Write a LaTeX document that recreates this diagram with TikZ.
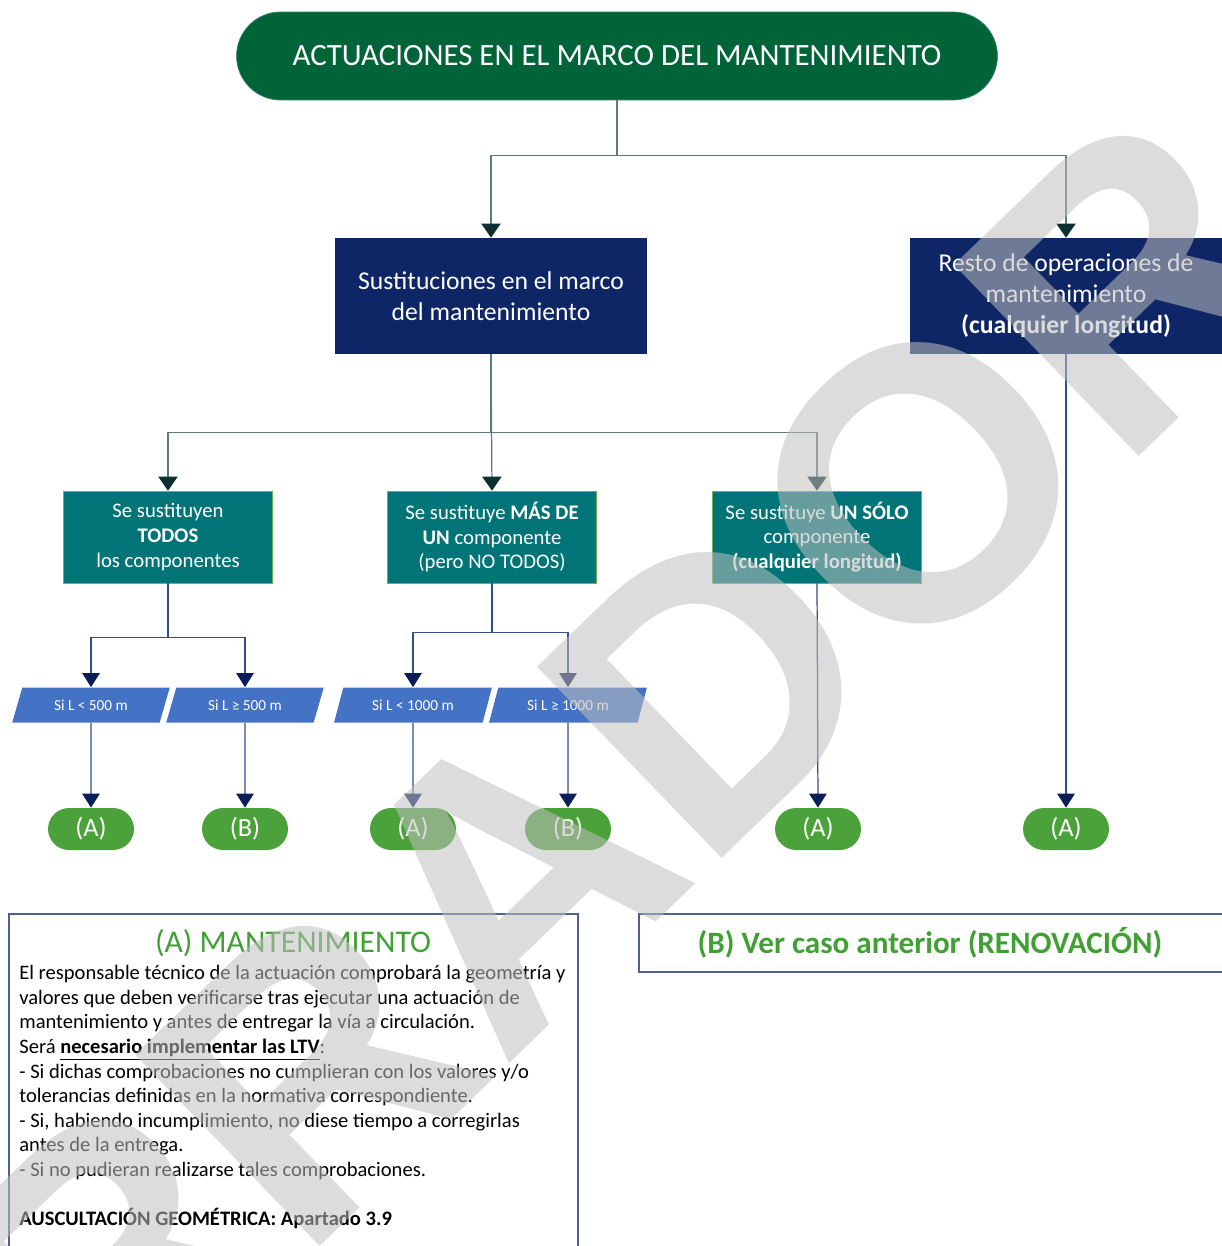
\documentclass[tikz,border=0pt]{standalone}
\usepackage{fontspec}
\setmainfont{Carlito}
\newfontfamily\wmfont{Liberation Sans}
\usetikzlibrary{shapes.geometric,arrows.meta,positioning}

\definecolor{topgreen}{RGB}{0,100,56}
\definecolor{navybox}{RGB}{14,38,102}
\definecolor{tealbox}{RGB}{0,116,118}
\definecolor{tealedge}{RGB}{110,180,80}
\definecolor{parablue}{RGB}{68,114,196}
\definecolor{ovalgreen}{RGB}{76,162,58}
\definecolor{notegreen}{RGB}{64,160,52}
\definecolor{linegray}{RGB}{96,122,124}
\definecolor{tipteal}{RGB}{14,48,48}
\definecolor{lineblue}{RGB}{50,76,140}
\definecolor{tipnavy}{RGB}{12,30,90}
\definecolor{noteedge}{RGB}{80,96,150}

\tikzset{
  topbox/.style={draw=topgreen!80!white, fill=topgreen, text=white, rounded corners=0.88cm,
    minimum width=15.22cm, minimum height=1.76cm, font=\fontsize{17.6}{21}\selectfont},
  mainbox/.style={fill=navybox, text=white, minimum width=6.24cm, minimum height=2.32cm,
    align=center, font=\fontsize{14.6}{17.6}\selectfont},
  casebox/.style={draw=tealedge, fill=tealbox, text=white, minimum width=4.18cm,
    minimum height=1.84cm, align=center, font=\fontsize{11.8}{14.2}\selectfont},
  lenbox/.style={trapezium, trapezium left angle=63, trapezium right angle=117,
    trapezium stretches=true, fill=parablue, text=white, minimum width=3.16cm,
    minimum height=0.7cm, inner sep=0pt, font=\fontsize{8.7}{10}\selectfont},
  resbox/.style={fill=ovalgreen, text=white, rounded corners=0.42cm, minimum width=1.72cm,
    minimum height=0.84cm, font=\fontsize{15}{18}\selectfont},
  linkgray/.style={draw=linegray, line width=0.7pt, -{Triangle[width=11pt,length=8pt,fill=tipteal,color=tipteal]}},
  linkblue/.style={draw=lineblue, line width=0.7pt, -{Triangle[width=10pt,length=8pt,fill=tipnavy,color=tipnavy]}},
}

\begin{document}
\begin{tikzpicture}[x=0.02cm, y=-0.02cm]
  \useasboundingbox (0,0) rectangle (1221,1246);

  % top of the tree
  \node[topbox] (top) at (617,56) {ACTUACIONES EN EL MARCO DEL MANTENIMIENTO};
  \node[mainbox] (sust) at (491,296) {Sustituciones en el marco\\del mantenimiento};
  \node[mainbox] (resto) at (1066,296) {Resto de operaciones de\\mantenimiento\\\textbf{(cualquier longitud)}};

  % kinds of replacement
  \node[casebox] (todos) at (168,537) {Se sustituyen\\\textbf{TODOS}\\los componentes};
  \node[casebox] (varios) at (492,537) {Se sustituye \textbf{MÁS DE}\\\textbf{UN} componente\\(pero NO TODOS)};
  \node[casebox] (uno) at (817,537) {Se sustituye \textbf{UN SÓLO}\\componente\\\textbf{(cualquier longitud)}};

  % length conditions
  \node[lenbox] (l1) at (91,705) {Si L < 500 m};
  \node[lenbox] (l2) at (245,705) {Si L ≥ 500 m};
  \node[lenbox] (l3) at (413,705) {Si L < 1000 m};
  \node[lenbox] (l4) at (568,705) {Si L ≥ 1000 m};

  % results
  \node[resbox] (r1) at (91,829) {(A)};
  \node[resbox] (r2) at (245,829) {(B)};
  \node[resbox] (r3) at (413,829) {(A)};
  \node[resbox] (r4) at (568,829) {(B)};
  \node[resbox] (r5) at (818,829) {(A)};
  \node[resbox] (r6) at (1066,829) {(A)};

  % connectors
  \draw[linkgray] (top.south) -- ++(0,55) -| (sust.north);
  \draw[linkgray] (top.south) -- ++(0,55) -| (resto.north);
  \draw[linkgray] (sust.south) -- ++(0,78) -| (todos.north);
  \draw[linkgray] (sust.south) -- (varios.north);
  \draw[linkgray] (sust.south) -- ++(0,78) -| (uno.north);
  \draw[linkblue] (todos.south) -- ++(0,54) -| (l1.north);
  \draw[linkblue] (todos.south) -- ++(0,54) -| (l2.north);
  \draw[linkblue] (varios.south) -- ++(0,49) -| (l3.north);
  \draw[linkblue] (varios.south) -- ++(0,49) -| (l4.north);
  \foreach \a/\b in {l1/r1, l2/r2, l3/r3, l4/r4, uno/r5, resto/r6}
    \draw[linkblue] (\a.south) -- (\b.north);

  % notes
  \draw[noteedge, line width=0.9pt] (9,1260) -- (9,914) -- (578,914) -- (578,1260);
  \node[text=notegreen, font=\fontsize{18}{21}\selectfont] (ttlA) at (293,943) {(A) MANTENIMIENTO};
  \node[anchor=north west, align=left, inner sep=0pt, font=\fontsize{11.7}{14}\selectfont] (txtA) at (19,965)
    {El responsable técnico de la actuación comprobará la geometría y\\
     valores que deben verificarse tras ejecutar una actuación de\\
     mantenimiento y antes de entregar la vía a circulación.\\
     Será \underline{\textbf{necesario implementar las LTV}}:\\
     - Si dichas comprobaciones no cumplieran con los valores y/o\\
     tolerancias definidas en la normativa correspondiente.\\
     - Si, habiendo incumplimiento, no diese tiempo a corregirlas\\
     antes de la entrega.\\
     - Si no pudieran realizarse tales comprobaciones.\\[14pt]
     \textbf{AUSCULTACIÓN GEOMÉTRICA: Apartado 3.9}};
  \draw[noteedge, line width=0.9pt] (1230,914) -- (639,914) -- (639,972) -- (1230,972);
  \node[text=notegreen, font=\fontsize{17.7}{21}\selectfont\bfseries] (ttlB) at (930,943) {(B) Ver caso anterior (RENOVACIÓN)};

  % watermark
  \node[rotate=44, text=black!25, opacity=0.55, font=\wmfont\bfseries\fontsize{220}{220}\selectfont] (wm) at (410,975) {BORRADOR};
\end{tikzpicture}
\end{document}
